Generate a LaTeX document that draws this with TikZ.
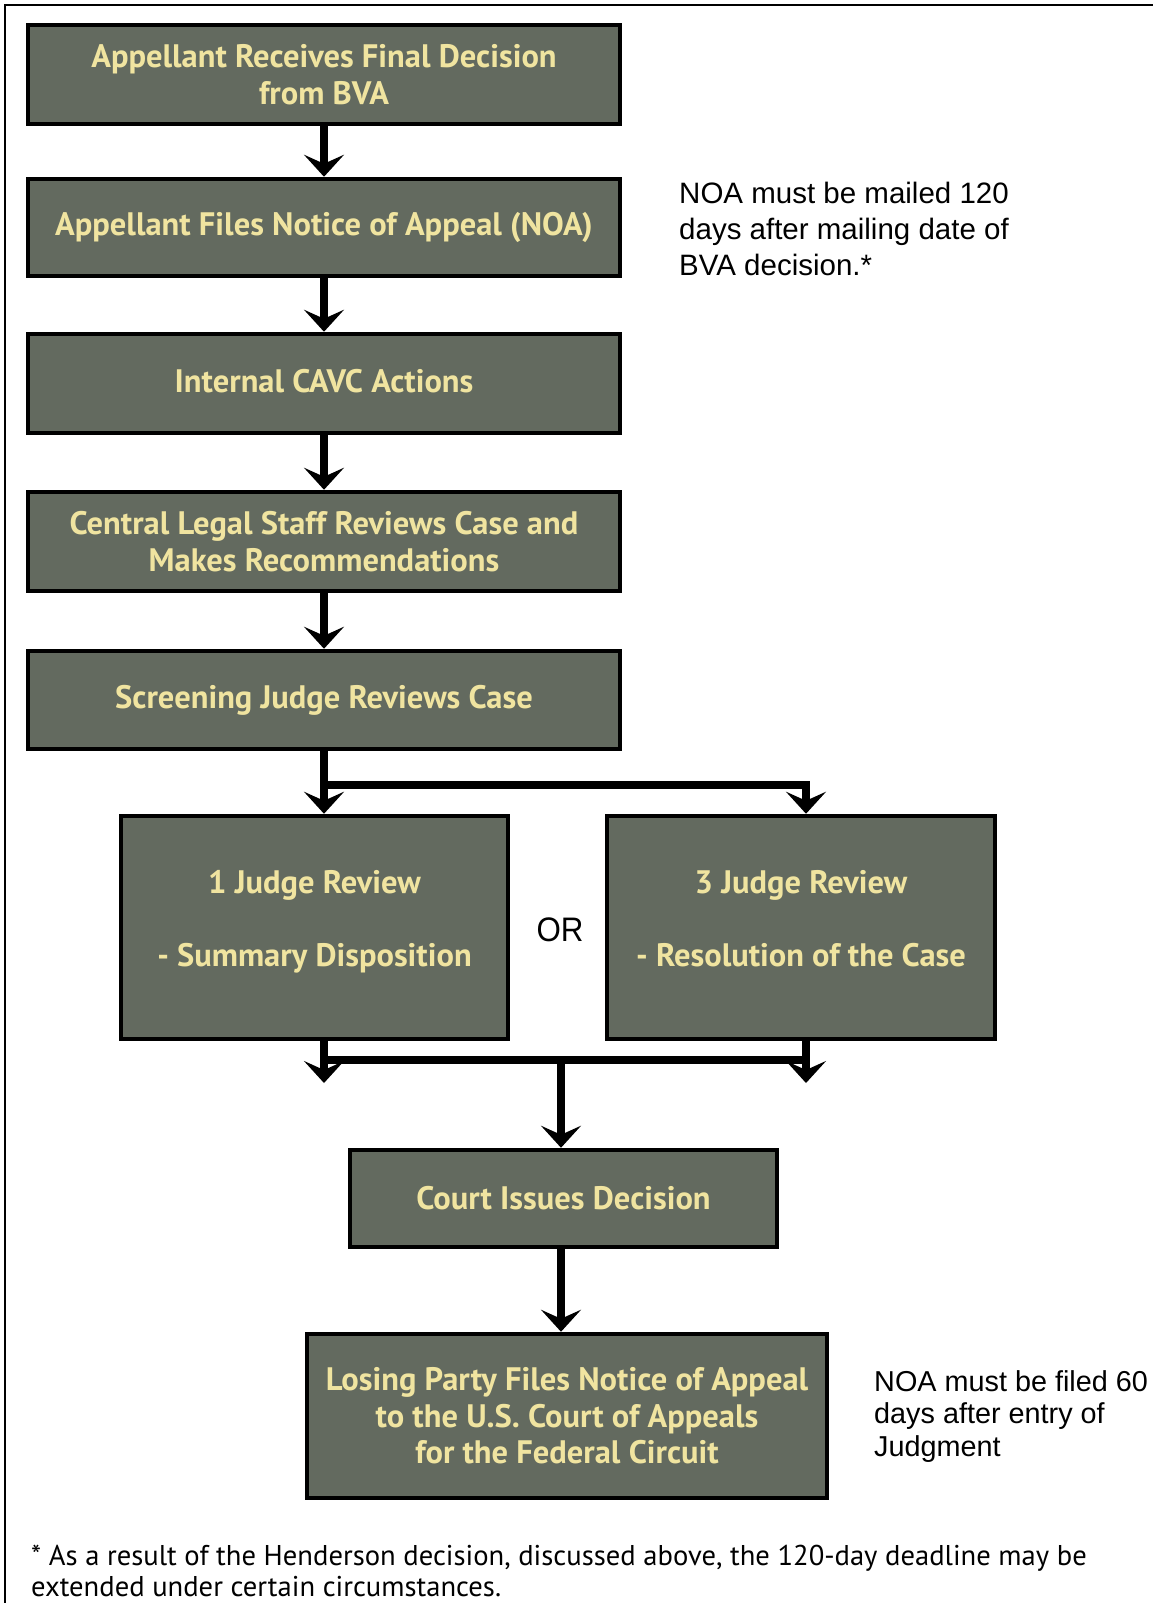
\documentclass[tikz,border=0pt]{standalone}
\usepackage{fontspec}
\setmainfont{PT Sans}
\newfontfamily\notefont{Liberation Sans}
\usetikzlibrary{arrows.meta}
\definecolor{boxfill}{RGB}{99,106,95}
\definecolor{boxtext}{RGB}{240,228,160}
\begin{document}
\begin{tikzpicture}[x=1pt,y=-1pt,
  stepbox/.style={draw=black, line width=4.5pt, fill=boxfill, text=boxtext,
    font=\fontsize{32.5}{36.6}\selectfont\bfseries, align=center, inner sep=0pt},
  conn/.style={line width=8.5pt, -{Stealth[length=22pt,width=40pt,inset=9pt]}},
  barline/.style={line width=8.5pt},
  note/.style={font=\notefont\fontsize{29.5}{36}\selectfont, align=left, anchor=north west, inner sep=0pt}]
\useasboundingbox (0,0) rectangle (1153,1603);
% frame
\draw[line width=2.5pt] (5,1603) -- (5,5) -- (1153,5);

\node[stepbox, minimum width=592pt, minimum height=99pt] (b1) at (324,74.5)
  {Appellant Receives Final Decision\\from BVA};
\node[stepbox, minimum width=592pt, minimum height=97pt] (b2) at (324,227.5)
  {Appellant Files Notice of Appeal (NOA)};
\node[stepbox, minimum width=592pt, minimum height=99pt, text depth=6pt] (b3) at (324,383.5)
  {Internal CAVC Actions};
\node[stepbox, minimum width=592pt, minimum height=99pt] (b4) at (324,541.5)
  {Central Legal Staff Reviews Case and\\Makes Recommendations};
\node[stepbox, minimum width=592pt, minimum height=98pt] (b5) at (324,700)
  {Screening Judge Reviews Case};
\node[stepbox, minimum width=387pt, minimum height=223pt, text depth=18pt] (b6) at (314.5,927.5)
  {1 Judge Review\\[36.6pt]- Summary Disposition};
\node[stepbox, minimum width=388pt, minimum height=223pt, text depth=18pt] (b7) at (801,927.5)
  {3 Judge Review\\[36.6pt]- Resolution of the Case};
\node[stepbox, minimum width=427pt, minimum height=97pt] (b8) at (563.5,1198.5)
  {Court Issues Decision};
\node[stepbox, minimum width=520pt, minimum height=164pt] (b9) at (567,1416)
  {Losing Party Files Notice of Appeal\\to the U.S. Court of Appeals\\for the Federal Circuit};

\node[font=\notefont\fontsize{34}{36}\selectfont, inner sep=0pt, xscale=0.92] (or) at (560,930) {OR};

\node[note] (n1) at (679,182) {NOA must be mailed 120\\days after mailing date of\\BVA decision.*};
\node[note, font=\notefont\fontsize{28.8}{32.5}\selectfont] (n2) at (874,1370) {NOA must be filed 60\\days after entry of\\Judgment};
\node[anchor=north west, inner sep=0pt, align=left, font=\fontsize{28.6}{31}\selectfont] (fn) at (31,1545)
  {* As a result of the Henderson decision, discussed above, the 120-day deadline may be\\extended under certain circumstances.};

% connectors
\draw[conn] (b1) -- (b2);
\draw[conn] (b2) -- (b3);
\draw[conn] (b3) -- (b4);
\draw[conn] (b4) -- (b5);

\coordinate (j1) at (324,785);
\coordinate (j2) at (806,785);
\draw[conn] (b5.south) -- (b5.south |- b6.north);
\draw[conn] (j1) -- (j2) -- (j2 |- b7.north);

\coordinate (k1) at (324,1060);
\coordinate (k2) at (806,1060);
\coordinate (k3) at (561,1060);
\coordinate (e1) at (324,1083);
\coordinate (e2) at (806,1083);
\draw[conn] (e1 |- b6.south) -- (e1);
\draw[conn] (e2 |- b7.south) -- (e2);
\draw[barline] (k1) -- (k2);
\draw[conn] (k3) -- (k3 |- b8.north);
\draw[conn] (k3 |- b8.south) -- (k3 |- b9.north);
\end{tikzpicture}
\end{document}
